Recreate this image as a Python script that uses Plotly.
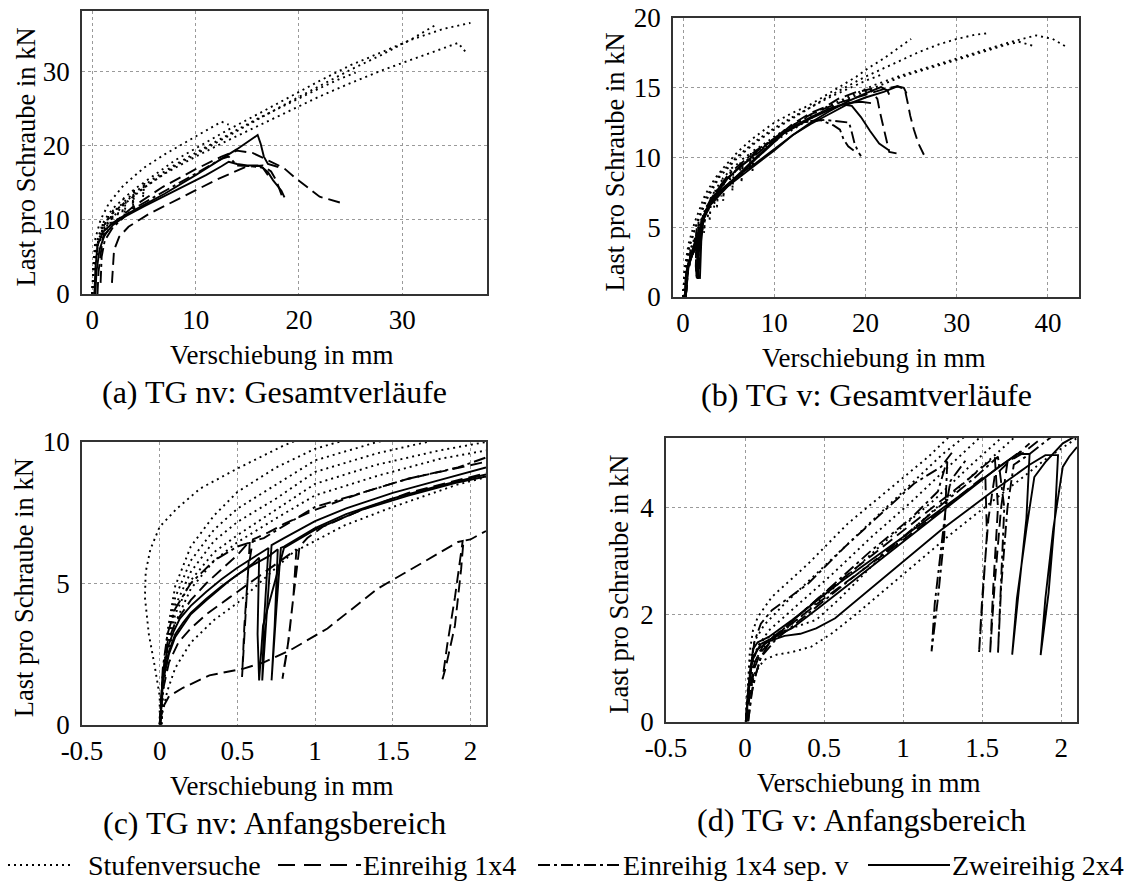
import plotly.graph_objects as go
from plotly.subplots import make_subplots

# reference canvas size; the page body adds an 8px margin before the plot div
W, H = 1132, 884
PAD = 8
FW, FH = W - PAD, H - PAD
FONT = "Liberation Serif, Times New Roman, serif"


def xp(px):
    return (px - PAD) / FW


def yp(py):
    return 1 - (py - PAD) / FH


# ---------------- (a) TG nv: Gesamtverläufe ----------------
A_STUF1_X = [0, 0.1, 0.3, 0.8, 1.6, 3, 5, 7, 9, 11, 12.5, 13.2]
A_STUF1_Y = [0, 4, 7.5, 10, 12.2, 14.6, 17, 18.8, 20.4, 22, 23.2, 22.8]
A_STUF2_X = [0, 0.1, 0.4, 0.35, 0.45, 1, 0.9, 1.05, 1.5, 1.4, 1.55, 2, 1.9, 2.05, 3, 2.9, 3.05,
             4, 3.9, 4.05, 5, 4.9, 5.05, 6, 8, 10, 13, 16, 19, 22, 25, 28, 31, 34, 36.6]
A_STUF2_Y = [0, 3.5, 7, 5, 7.1, 9.5, 7.5, 9.6, 10.6, 8.6, 10.7, 11.5, 9.5, 11.6, 12.8, 10.8, 12.9,
             14, 12, 14.1, 15, 13, 15.1, 16, 18, 19.6, 22, 24.2, 26.5, 28.7, 30.8, 32.6, 34.3, 35.7, 36.5]
A_STUF3_X = [0, 0.1, 0.5, 0.45, 0.55, 1.2, 1.1, 1.25, 1.8, 1.7, 1.85, 2.5, 2.4, 2.55, 3.2, 3.1, 3.25,
             4, 3.9, 4.05, 6, 8, 10, 13, 16, 19, 22, 25, 28, 31, 33.2]
A_STUF3_Y = [0, 3, 7, 5.2, 7.1, 9.5, 7.6, 9.6, 10.6, 8.7, 10.7, 11.5, 9.6, 11.6, 12.4, 10.5, 12.5,
             13.3, 11.4, 13.4, 15.3, 17.2, 18.8, 21.2, 23.5, 25.8, 28, 30.2, 32.2, 34.4, 36.2]
A_STUF4_X = [0, 0.1, 0.5, 1.5, 3, 5, 7, 10, 13, 16, 19, 22, 25, 28, 31, 33, 35.4, 36.3]
A_STUF4_Y = [0, 3, 6.5, 9.5, 12, 14.3, 16.2, 18.5, 20.6, 22.6, 24.6, 26.6, 28.4, 30.1, 31.6, 32.6, 33.8, 32.3]
A_STUF5_X = [0, 0.1, 0.4, 1, 2, 4, 6, 8, 10, 12, 14, 16, 18, 20, 22, 24, 25.5]
A_STUF5_Y = [0, 3, 6.5, 9, 11, 13.6, 15.6, 17.4, 19, 20.6, 22.1, 23.6, 25, 26.4, 27.7, 29, 29.8]

A_EIN1_X = [1.9, 2.0, 2.1, 2.6, 3.5, 5.5, 8.7, 11.9, 14.8, 16.5, 17.3, 17.8, 18.4]
A_EIN1_Y = [1.5, 4, 5.9, 7.7, 9.05, 10.8, 13.1, 15.3, 17.1, 17.3, 16.5, 15.3, 13.0]
A_EIN2_X = [0.5, 0.6, 1, 2, 4, 6.8, 10, 12.5, 14, 15.5, 17, 18.5, 19.5, 21, 22, 24]
A_EIN2_Y = [0, 3, 7.5, 9.5, 11.8, 14.4, 16.8, 18.5, 19.3, 19.0, 18.0, 17.0, 15.8, 14.2, 13.1, 12.3]

A_SEP1_X = [0.8, 0.9, 1.2, 2, 4, 7, 10, 12.5, 13.2, 14, 15.5, 16.5, 17]
A_SEP1_Y = [1.5, 5, 7.2, 9, 11.5, 13.8, 16.2, 18.2, 18.5, 17.3, 17.2, 17.0, 16.0]

A_ZWEI1_X = [0.2, 0.3, 0.5, 1, 2, 3, 5, 7, 10, 12, 14, 16.0, 16.3, 16.6, 17.0, 18.0]
A_ZWEI1_Y = [0, 3.5, 6.5, 8.3, 9.6, 10.5, 12, 13.5, 16, 17.7, 19.5, 21.4, 20.2, 18.5, 17.5, 17.1]
A_ZWEI2_X = [0.3, 0.4, 0.7, 1.2, 2, 3, 5, 7, 9, 11, 12.5, 13.2, 14, 15, 16, 16.5, 17, 17.5, 18.3, 18.6]
A_ZWEI2_Y = [0, 3, 6, 8, 9.3, 10.3, 11.8, 13.2, 14.6, 16, 17.2, 17.8, 17.5, 17.3, 17.3, 17.0, 16.4, 15.3, 13.9, 13.0]

# ---------------- (b) TG v: Gesamtverläufe ----------------
B_STUF1_X = [0, 0.2, 0.6, 1.3, 2.4, 3.5, 4.6, 6, 7.5, 10, 12, 13.7, 15.5, 17.3, 19, 20.3, 22, 23.5, 25.0]
B_STUF1_Y = [0, 2.1, 3.8, 5.4, 7.3, 8.5, 9.4, 10.4, 11.3, 12.5, 13.2, 13.7, 14.4, 15.1, 15.8, 16.4, 17.1, 17.8, 18.5]
B_STUF2_X = [0, 0.2, 0.7, 1.5, 2.6, 4, 6, 8, 10, 12, 14, 16, 18, 20, 22, 24, 26, 28, 30, 32, 33.3]
B_STUF2_Y = [0, 1.9, 3.6, 5.2, 7.0, 8.6, 10.0, 11.1, 12.0, 12.8, 13.6, 14.4, 15.1, 15.8, 16.4, 17.0, 17.6, 18.1, 18.5, 18.8, 18.9]
B_STUF3_X = [0, 0.2, 0.8, 0.7, 0.85, 1.3, 1.2, 1.35, 1.7, 1.6, 1.75, 2.2, 2.1, 2.25, 2.8, 2.7, 2.85,
             3.5, 3.4, 3.55, 4.3, 4.2, 4.35, 5.2, 5.1, 5.25, 6.3, 6.2, 6.35, 7.4, 7.3, 7.45, 8.5,
             10, 12, 15, 18, 21, 24, 27, 30, 33, 36, 38.7, 40.5, 42.1]
B_STUF3_Y = [0, 1.8, 3.4, 2.2, 3.5, 4.3, 3.1, 4.4, 5.0, 3.8, 5.1, 5.9, 4.7, 6.0, 6.8, 5.6, 6.9,
             7.6, 6.4, 7.7, 8.4, 7.2, 8.5, 9.1, 7.9, 9.2, 9.7, 8.5, 9.8, 10.3, 9.1, 10.4, 10.8,
             11.5, 12.3, 13.4, 14.3, 15.2, 15.9, 16.5, 17.1, 17.7, 18.3, 18.75, 18.5, 17.9]
B_STUF4_X = [0, 0.2, 0.8, 0.7, 0.85, 1.8, 1.7, 1.85, 2.4, 2.3, 2.45, 3, 2.9, 3.05, 3.8, 3.7, 3.85,
             4.5, 4.4, 4.55, 5.5, 5.4, 5.55, 6.5, 6.4, 6.55, 7.7, 7.6, 7.75, 9, 12, 15, 18, 21, 24,
             27, 30, 33, 35, 36.8, 38.4]
B_STUF4_Y = [0, 1.7, 3.3, 2.1, 3.4, 4.9, 3.7, 5.0, 5.8, 4.6, 5.9, 6.6, 5.4, 6.7, 7.5, 6.3, 7.6,
             8.1, 6.9, 8.2, 8.8, 7.6, 8.9, 9.4, 8.2, 9.5, 10.1, 8.9, 10.2, 10.7, 12.0, 13.2, 14.2, 15.0, 15.8,
             16.4, 17.0, 17.6, 18.0, 18.3, 18.0]
B_STUF5_X = [0, 0.2, 0.7, 1.5, 2.5, 4, 6, 8, 10, 12, 14, 16, 18, 20, 22]
B_STUF5_Y = [0, 2, 3.7, 5.3, 7.1, 8.8, 10.1, 11.2, 12.1, 12.9, 13.6, 14.3, 14.9, 15.5, 16.0]

B_EIN1_X = [0.3, 0.5, 1, 1.4, 1.5, 1.4, 1.5, 1.8, 2.5, 4, 6, 8, 10, 12, 14, 15.5, 17, 18.8, 20.5, 21.3, 21.6, 22.0, 22.6, 23.4]
B_EIN1_Y = [0, 2, 3.2, 4, 5, 2.5, 1.2, 4.5, 6.3, 7.9, 9.2, 10.2, 11.3, 12.4, 13.2, 13.6, 14.2, 14.65, 14.9, 14.2, 13.2, 12.0, 10.4, 10.3]
B_EIN2_X = [0.3, 0.5, 1, 1.6, 1.7, 1.6, 1.7, 2, 3, 5, 8, 11, 14, 17, 20, 22, 23.5, 24.3, 24.6, 24.9, 25.3, 25.8, 26.4]
B_EIN2_Y = [0, 2.2, 3.3, 4.2, 5.4, 2.8, 1.3, 5.2, 6.9, 8.6, 10.3, 11.9, 13.1, 13.9, 14.5, 14.9, 15.1, 14.9, 14.0, 13.0, 12.0, 11.0, 10.2]

B_SEP1_X = [0.3, 0.6, 1.2, 1.5, 1.4, 1.5, 2, 3, 5, 8, 11, 13, 15.5, 17, 18.2, 18.5, 18.8, 19.2, 19.5]
B_SEP1_Y = [0, 2.5, 3.7, 4.6, 2.2, 1.4, 5.5, 7, 8.8, 10.5, 11.8, 12.5, 12.7, 12.6, 12.5, 11.8, 11.0, 10.4, 10.1]
B_SEP2_X = [0.3, 0.6, 1.2, 1.8, 3, 5, 8, 11, 13, 15, 16.5, 17.2, 17.6, 18.1, 18.7]
B_SEP2_Y = [0, 2.4, 3.6, 4.8, 6.8, 8.6, 10.4, 11.8, 12.5, 12.7, 12.3, 12.0, 11.3, 10.8, 10.5]

B_ZWEI1_X = [0.2, 0.3, 0.6, 1.0, 1.5, 1.9, 2.0, 1.9, 1.85, 2.0, 2.3, 3, 4, 6, 8, 10, 12, 14, 16, 18, 20, 21.7, 22.4, 22.6]
B_ZWEI1_Y = [0, 1.5, 2.4, 3.0, 3.6, 4.5, 5.2, 3, 1.3, 4, 5.9, 6.9, 7.6, 8.7, 9.6, 10.6, 11.6, 12.5, 13.3, 14.0, 14.6, 15.05, 14.8, 14.5]
B_ZWEI2_X = [0.2, 0.35, 0.7, 1.2, 1.6, 1.7, 1.55, 1.6, 1.8, 2.2, 3, 4, 6, 8, 10, 12, 14, 16, 18, 20, 22, 23.5, 24.2, 24.5]
B_ZWEI2_Y = [0, 1.8, 2.6, 3.3, 4.0, 5, 2.5, 1.3, 4, 5.6, 6.7, 7.5, 8.5, 9.5, 10.5, 11.6, 12.4, 13.1, 13.8, 14.3, 14.7, 15.1, 15.0, 14.6]
B_ZWEI3_X = [0.3, 0.5, 1, 1.5, 2.2, 3, 5, 8, 11, 14, 16, 17.5, 18.5, 19.5, 20.5, 21.5, 22.6]
B_ZWEI3_Y = [0, 2, 3, 3.8, 5.5, 6.6, 8, 9.9, 11.7, 12.8, 13.4, 13.8, 13.7, 12.9, 11.9, 11.0, 10.5]
B_ZWEI4_X = [0.3, 0.6, 1.2, 2.2, 3, 5, 8, 11, 14, 16, 18, 19.5, 20.6]
B_ZWEI4_Y = [0, 2.2, 3.4, 5.6, 6.6, 8.1, 10.0, 11.8, 12.9, 13.5, 13.9, 14.0, 13.9]

# ---------------- (c) TG nv: Anfangsbereich ----------------
C_STUF1_X = [0.0, 0.0, -0.03, -0.07, -0.095, -0.09, -0.06, 0.0, 0.11, 0.26, 0.5, 0.8, 0.9]
C_STUF1_Y = [0, 1.0, 2.0, 3.2, 4.5, 5.4, 6.2, 7.0, 7.64, 8.35, 9.06, 9.88, 10.1]
C_STUF2_X = [0.01, 0.02, 0.05, 0.1, 0.2, 0.35, 0.5, 0.75, 1.0, 1.4]
C_STUF2_Y = [0, 1.5, 3.3, 4.9, 6.3, 7.4, 8.23, 9.1, 9.76, 10.4]
C_STUF3_X = [0.01, 0.02, 0.05, 0.1, 0.2, 0.35, 0.5, 0.75, 1.0, 1.4, 1.8]
C_STUF3_Y = [0, 1.4, 3.0, 4.5, 5.8, 6.9, 7.64, 8.5, 9.35, 10.0, 10.5]
C_STUF4_X = [0.01, 0.02, 0.05, 0.1, 0.2, 0.35, 0.5, 0.75, 1.0, 1.4, 1.8]
C_STUF4_Y = [0, 1.3, 2.8, 4.2, 5.4, 6.5, 7.17, 8.0, 8.94, 9.6, 10.1]
C_STUF5_X = [0.01, 0.02, 0.05, 0.1, 0.2, 0.35, 0.5, 0.75, 1.0, 1.4, 1.8, 2.1]
C_STUF5_Y = [0, 1.2, 2.6, 3.9, 5.1, 6.1, 6.7, 7.6, 8.52, 9.2, 9.7, 10.0]
C_STUF6_X = [0.01, 0.02, 0.05, 0.1, 0.2, 0.35, 0.5, 0.75, 1.0, 1.4, 1.8, 2.1]
C_STUF6_Y = [0, 1.1, 2.4, 3.6, 4.8, 5.8, 6.45, 7.3, 8.11, 8.8, 9.4, 9.7]
C_STUF7_X = [0.01, 0.02, 0.05, 0.1, 0.2, 0.35, 0.5, 0.7, 0.86, 1.0, 1.19, 1.5, 1.92, 2.1]
C_STUF7_Y = [0, 0.5, 1.2, 2.0, 2.9, 3.7, 4.3, 5.3, 6.1, 6.5, 7.05, 7.7, 8.5, 8.75]

C_EIN1_X = [0.0, 0.01, 0.03, 0.06, 0.15, 0.32, 0.54, 0.67, 0.84, 1.08, 1.4, 1.62, 1.92, 1.95, 1.9, 1.85, 1.82, 1.84, 1.9, 1.94, 1.955, 2.0, 2.1]
C_EIN1_Y = [0, 0.3, 0.7, 1.0, 1.3, 1.74, 1.98, 2.2, 2.63, 3.4, 4.8, 5.5, 6.46, 6.5, 4.5, 2.8, 1.6, 2.0, 3.5, 5.5, 6.5, 6.55, 6.85]
C_EIN2_X = [0.0, 0.02, 0.05, 0.1, 0.2, 0.3, 0.4, 0.5, 0.58, 0.555, 0.53, 0.545, 0.57, 0.6, 0.7, 0.8, 1.0, 1.3, 1.6, 2.1]
C_EIN2_Y = [0, 1.8, 2.9, 3.6, 4.4, 5.0, 5.5, 6.0, 6.5, 4.0, 1.68, 3.5, 5.5, 6.55, 6.8, 7.1, 7.6, 8.2, 8.7, 9.3]
C_EIN3_X = [0.0, 0.02, 0.06, 0.12, 0.2, 0.3, 0.45, 0.6, 0.75, 0.88, 0.86, 0.83, 0.80, 0.79, 0.82, 0.86, 0.9, 0.95, 1.05, 1.3, 1.6, 2.1]
C_EIN3_Y = [0, 1.2, 2.2, 2.9, 3.4, 3.9, 4.5, 5.1, 5.7, 6.2, 4.5, 3.0, 2.0, 1.62, 2.6, 4.5, 6.3, 6.6, 7.0, 7.6, 8.2, 8.9]

C_SEP1_X = [0.0, 0.02, 0.05, 0.1, 0.2, 0.35, 0.5, 0.67, 0.85, 1.0, 1.3, 1.6, 1.92, 2.1]
C_SEP1_Y = [0, 2.0, 3.2, 4.1, 5.0, 5.8, 6.3, 6.6, 7.2, 7.7, 8.2, 8.7, 9.1, 9.45]

C_ZWEI1_X = [0.004, 0.02, 0.05, 0.09, 0.13, 0.2, 0.3, 0.4, 0.5, 0.6, 0.7, 0.67, 0.66, 0.69, 0.72, 0.8, 1.0, 1.2, 1.5, 1.8, 2.1]
C_ZWEI1_Y = [0, 1.7, 2.7, 3.3, 3.75, 4.2, 4.7, 5.15, 5.55, 5.9, 6.25, 3.5, 1.56, 4.0, 6.35, 6.6, 7.2, 7.65, 8.2, 8.65, 9.1]
C_ZWEI2_X = [0.004, 0.02, 0.06, 0.1, 0.15, 0.2, 0.3, 0.4, 0.5, 0.6, 0.7, 0.76, 0.74, 0.72, 0.75, 0.78, 0.8, 1.0, 1.2, 1.5, 1.8, 2.1]
C_ZWEI2_Y = [0, 1.6, 2.6, 3.2, 3.6, 3.95, 4.45, 4.9, 5.3, 5.65, 5.95, 6.2, 3.5, 1.56, 4.0, 6.25, 6.3, 6.95, 7.45, 8.0, 8.45, 8.85]
C_ZWEI3_X = [0.004, 0.02, 0.06, 0.1, 0.2, 0.3, 0.45, 0.6, 0.64, 0.63, 0.64, 0.665, 0.8, 1.0, 1.3, 1.6, 1.9, 2.1]
C_ZWEI3_Y = [0, 1.5, 2.5, 3.1, 3.9, 4.4, 5.1, 5.7, 5.9, 3.2, 1.56, 3.5, 6.25, 6.9, 7.6, 8.1, 8.55, 8.78]

# ---------------- (d) TG v: Anfangsbereich ----------------
D_STUF1_X = [0.005, 0.015, 0.03, 0.05, 0.08, 0.17, 0.4, 0.65, 0.9, 1.16, 1.3]
D_STUF1_Y = [0, 0.6, 1.3, 1.7, 1.95, 2.33, 2.95, 3.7, 4.32, 4.95, 5.35]
D_STUF2_X = [0.005, 0.015, 0.03, 0.06, 0.12, 0.25, 0.5, 0.75, 1.0, 1.25, 1.4]
D_STUF2_Y = [0, 0.5, 1.1, 1.5, 1.8, 2.2, 2.9, 3.6, 4.3, 5.0, 5.35]
D_STUF3_X = [0.005, 0.02, 0.04, 0.08, 0.15, 0.3, 0.55, 0.8, 1.05, 1.3, 1.5]
D_STUF3_Y = [0, 0.5, 1.0, 1.4, 1.7, 2.1, 2.75, 3.45, 4.1, 4.8, 5.35]
D_STUF4_X = [0.005, 0.02, 0.05, 0.1, 0.2, 0.35, 0.6, 0.9, 1.2, 1.45, 1.62]
D_STUF4_Y = [0, 0.5, 1.0, 1.35, 1.6, 1.95, 2.6, 3.4, 4.15, 4.85, 5.3]
D_STUF5_X = [0.005, 0.02, 0.06, 0.12, 0.2, 0.3, 0.42, 0.55, 0.7, 1.0, 1.3, 1.6, 1.9, 2.1]
D_STUF5_Y = [0, 0.4, 0.9, 1.15, 1.25, 1.3, 1.4, 1.65, 2.0, 2.75, 3.5, 4.2, 4.9, 5.3]
D_STUF6_X = [0.005, 0.02, 0.05, 0.1, 0.2, 0.3, 0.45, 0.6, 0.8, 1.1, 1.4, 1.7]
D_STUF6_Y = [0, 0.6, 1.2, 1.5, 1.65, 1.75, 1.9, 2.3, 2.9, 3.7, 4.5, 5.3]

D_EIN1_X = [0.01, 0.03, 0.06, 0.1, 0.2, 0.27, 0.5, 0.94, 1.2, 1.45, 1.52, 1.53, 1.5, 1.48, 1.5, 1.54, 1.58, 1.65, 1.8]
D_EIN1_Y = [0, 0.5, 1.0, 1.3, 1.6, 1.77, 2.3, 3.26, 3.85, 4.45, 4.6, 3.5, 2.2, 1.27, 2.3, 3.8, 4.6, 4.8, 5.2]
D_EIN2_X = [0.01, 0.03, 0.06, 0.12, 0.25, 0.5, 0.8, 1.1, 1.4, 1.58, 1.6, 1.57, 1.55, 1.58, 1.62, 1.66, 1.75, 1.9]
D_EIN2_Y = [0, 0.6, 1.1, 1.45, 1.75, 2.4, 3.1, 3.8, 4.5, 4.95, 4.0, 2.5, 1.27, 2.6, 4.0, 4.85, 5.0, 5.35]

D_SEP1_X = [0.02, 0.04, 0.07, 0.1, 0.15, 0.25, 0.5, 0.8, 1.05, 1.22, 1.28, 1.26, 1.22, 1.18, 1.2, 1.24, 1.27, 1.3, 1.4]
D_SEP1_Y = [0, 0.5, 0.9, 1.2, 1.45, 1.75, 2.4, 3.2, 3.8, 4.3, 4.9, 3.45, 2.3, 1.31, 2.2, 3.2, 4.0, 4.5, 4.9]
D_SEP2_X = [0.01, 0.03, 0.06, 0.1, 0.17, 0.4, 0.63, 0.84, 1.07, 1.24, 1.32]
D_SEP2_Y = [0, 0.9, 1.5, 1.83, 2.08, 2.58, 3.26, 3.82, 4.45, 4.76, 5.07]
D_SEP3_X = [0.02, 0.05, 0.1, 0.2, 0.35, 0.6, 0.9, 1.2, 1.45, 1.6, 1.64, 1.62, 1.6, 1.62, 1.66, 1.7, 1.8, 1.95]
D_SEP3_Y = [0, 0.7, 1.2, 1.55, 1.9, 2.5, 3.2, 3.95, 4.55, 4.95, 4.0, 2.5, 1.27, 2.5, 4.0, 4.8, 5.0, 5.35]

D_ZWEI1_X = [0.005, 0.02, 0.035, 0.05, 0.08, 0.15, 0.3, 0.6, 1.0, 1.3, 1.6, 1.72, 1.8, 1.78, 1.73, 1.69, 1.72, 1.78, 1.83, 1.9, 2.01, 2.1]
D_ZWEI1_Y = [0, 0.5, 1.0, 1.35, 1.48, 1.58, 1.9, 2.6, 3.45, 4.1, 4.75, 5.0, 5.0, 3.8, 2.4, 1.25, 2.3, 3.6, 4.57, 4.85, 5.2, 5.35]
D_ZWEI2_X = [0.005, 0.02, 0.04, 0.08, 0.15, 0.25, 0.35, 0.45, 0.57, 0.9, 1.24, 1.56, 1.8, 1.9, 1.98, 1.96, 1.92, 1.87, 1.9, 1.95, 2.01, 2.05, 2.1]
D_ZWEI2_Y = [0, 0.6, 1.1, 1.35, 1.5, 1.6, 1.64, 1.74, 1.93, 2.75, 3.58, 4.29, 4.8, 4.98, 4.98, 3.8, 2.4, 1.24, 2.3, 3.6, 4.76, 4.95, 5.13]
D_ZWEI3_X = [0.005, 0.02, 0.05, 0.1, 0.2, 0.3, 0.5, 0.8, 1.1, 1.4, 1.6, 1.75]
D_ZWEI3_Y = [0, 0.6, 1.2, 1.45, 1.6, 1.75, 2.2, 2.9, 3.6, 4.3, 4.75, 5.05]

# tick labels
A_XTICKS = [0, 10, 20, 30]
A_YTICKS = [0, 10, 20, 30]
B_XTICKS = [0, 10, 20, 30, 40]
B_YTICKS = [0, 5, 10, 15, 20]
CD_XTICKS = [-0.5, 0, 0.5, 1, 1.5, 2]
CD_XLABELS = ["-0.5", "0", "0.5", "1", "1.5", "2"]
C_YTICKS = [0, 5, 10]
D_YTICKS = [0, 2, 4]

SUBTITLES = ["(a) TG nv: Gesamtverläufe", "(b) TG v: Gesamtverläufe",
             "(c) TG nv: Anfangsbereich", "(d) TG v: Anfangsbereich"]
LEGEND_NAMES = ["Stufenversuche", "Einreihig 1x4", "Einreihig 1x4 sep. v", "Zweireihig 2x4"]

STYLES = {
    "stuf": dict(color="black", width=1.9, dash="2px,4px"),
    "ein": dict(color="black", width=1.9, dash="12px,6px"),
    "sep": dict(color="black", width=1.9, dash="12px,4px,3px,4px"),
    "zwei": dict(color="black", width=1.9, dash="solid"),
}

PANELS = {
    (1, 1): [("stuf", A_STUF1_X, A_STUF1_Y), ("stuf", A_STUF2_X, A_STUF2_Y), ("stuf", A_STUF3_X, A_STUF3_Y),
             ("stuf", A_STUF4_X, A_STUF4_Y), ("stuf", A_STUF5_X, A_STUF5_Y),
             ("ein", A_EIN1_X, A_EIN1_Y), ("ein", A_EIN2_X, A_EIN2_Y),
             ("sep", A_SEP1_X, A_SEP1_Y),
             ("zwei", A_ZWEI1_X, A_ZWEI1_Y), ("zwei", A_ZWEI2_X, A_ZWEI2_Y)],
    (1, 2): [("stuf", B_STUF1_X, B_STUF1_Y), ("stuf", B_STUF2_X, B_STUF2_Y), ("stuf", B_STUF3_X, B_STUF3_Y),
             ("stuf", B_STUF4_X, B_STUF4_Y), ("stuf", B_STUF5_X, B_STUF5_Y),
             ("ein", B_EIN1_X, B_EIN1_Y), ("ein", B_EIN2_X, B_EIN2_Y),
             ("sep", B_SEP1_X, B_SEP1_Y), ("sep", B_SEP2_X, B_SEP2_Y),
             ("zwei", B_ZWEI1_X, B_ZWEI1_Y), ("zwei", B_ZWEI2_X, B_ZWEI2_Y),
             ("zwei", B_ZWEI3_X, B_ZWEI3_Y), ("zwei", B_ZWEI4_X, B_ZWEI4_Y)],
    (2, 1): [("stuf", C_STUF1_X, C_STUF1_Y), ("stuf", C_STUF2_X, C_STUF2_Y), ("stuf", C_STUF3_X, C_STUF3_Y),
             ("stuf", C_STUF4_X, C_STUF4_Y), ("stuf", C_STUF5_X, C_STUF5_Y), ("stuf", C_STUF6_X, C_STUF6_Y),
             ("stuf", C_STUF7_X, C_STUF7_Y),
             ("ein", C_EIN1_X, C_EIN1_Y), ("ein", C_EIN2_X, C_EIN2_Y), ("ein", C_EIN3_X, C_EIN3_Y),
             ("sep", C_SEP1_X, C_SEP1_Y),
             ("zwei", C_ZWEI1_X, C_ZWEI1_Y), ("zwei", C_ZWEI2_X, C_ZWEI2_Y), ("zwei", C_ZWEI3_X, C_ZWEI3_Y)],
    (2, 2): [("stuf", D_STUF1_X, D_STUF1_Y), ("stuf", D_STUF2_X, D_STUF2_Y), ("stuf", D_STUF3_X, D_STUF3_Y),
             ("stuf", D_STUF4_X, D_STUF4_Y), ("stuf", D_STUF5_X, D_STUF5_Y), ("stuf", D_STUF6_X, D_STUF6_Y),
             ("ein", D_EIN1_X, D_EIN1_Y), ("ein", D_EIN2_X, D_EIN2_Y),
             ("sep", D_SEP1_X, D_SEP1_Y), ("sep", D_SEP2_X, D_SEP2_Y), ("sep", D_SEP3_X, D_SEP3_Y),
             ("zwei", D_ZWEI1_X, D_ZWEI1_Y), ("zwei", D_ZWEI2_X, D_ZWEI2_Y), ("zwei", D_ZWEI3_X, D_ZWEI3_Y)],
}

fig = make_subplots(rows=2, cols=2)

for (r, c), curves in PANELS.items():
    for style, xs, ys in curves:
        fig.add_trace(go.Scatter(x=xs, y=ys, mode="lines", line=STYLES[style],
                                 showlegend=False, hoverinfo="skip"), row=r, col=c)

# frame positions in reference pixels: left, right, top, bottom, y-title offset
FRAMES = {
    (1, 1): (82, 487, 11, 294, 57),
    (1, 2): (673, 1079, 18, 297, 58),
    (2, 1): (82, 486, 442, 724.5, 58),
    (2, 2): (666, 1077, 438, 721.5, 47),
}
RANGES = {
    (1, 1): ([-1, 38.2], [0, 38.1], A_XTICKS, [str(v) for v in A_XTICKS], A_YTICKS),
    (1, 2): ([-1.1, 43.4], [0, 20], B_XTICKS, [str(v) for v in B_XTICKS], B_YTICKS),
    (2, 1): ([-0.5, 2.1], [0, 10], CD_XTICKS, CD_XLABELS, C_YTICKS),
    (2, 2): ([-0.5, 2.1], [0, 5.3], CD_XTICKS, CD_XLABELS, D_YTICKS),
}

axis_common = dict(showline=True, linecolor="#333", linewidth=1.6, mirror=True, automargin=False,
                   showgrid=True, gridcolor="#9a9a9a", griddash="dot", gridwidth=1,
                   zeroline=False, tickcolor="rgba(0,0,0,0)", ticklabeloverflow="allow",
                   tickfont=dict(family=FONT, size=27, color="black"))

for (r, c), (left, right, top, bottom, _) in FRAMES.items():
    xr, yr, xt, xl, yt = RANGES[(r, c)]
    fig.update_xaxes(domain=[xp(left), xp(right)], range=xr, tickvals=xt, ticktext=xl,
                     ticks="outside", ticklen=1, row=r, col=c, **axis_common)
    fig.update_yaxes(domain=[yp(bottom), yp(top)], range=yr, tickvals=yt, ticks="outside", ticklen=5,
                     ticktext=[str(v) for v in yt], row=r, col=c, **axis_common)

annotations = []
xtitle_font = dict(family=FONT, size=27, color="black")
ytitle_font = dict(family=FONT, size=26.5, color="black")
sub_font = dict(family=FONT, size=32, color="black")
leg_font = dict(family=FONT, size=28, color="black")
for (r, c), (left, right, top, bottom, yoff) in FRAMES.items():
    cx = (left + right) / 2
    annotations.append(dict(text="Verschiebung in mm", x=xp(cx - 3), y=yp(bottom + 61),
                            xref="paper", yref="paper", showarrow=False, font=xtitle_font,
                            xanchor="center", yanchor="middle"))
    annotations.append(dict(text=SUBTITLES[(r - 1) * 2 + (c - 1)], x=xp(cx - 10), y=yp(bottom + 98),
                            xref="paper", yref="paper", showarrow=False, font=sub_font,
                            xanchor="center", yanchor="middle"))
    annotations.append(dict(text="Last pro Schraube in kN", x=xp(left - yoff), y=yp((top + bottom) / 2 + 5),
                            xref="paper", yref="paper", showarrow=False, font=ytitle_font, textangle=-90,
                            xanchor="center", yanchor="middle"))

# manual legend row at the bottom: sample line start/end, text start
LEG_Y = yp(865)
LEG_ITEMS = [(8, 72, 86), (278, 361, 361), (538, 621, 621), (868, 950, 950)]
LEG_KEYS = ["stuf", "ein", "sep", "zwei"]
shapes = []
for (x0, x1, tx), key, name in zip(LEG_ITEMS, LEG_KEYS, LEGEND_NAMES):
    st = dict(STYLES[key])
    if key == "ein":
        st["dash"] = "17px,9px"
    shapes.append(dict(type="line", xref="paper", yref="paper", x0=xp(x0), x1=xp(x1),
                       y0=LEG_Y, y1=LEG_Y, line=st))
    annotations.append(dict(text=name, x=xp(tx), y=LEG_Y, xref="paper", yref="paper",
                            showarrow=False, font=leg_font, xanchor="left", yanchor="middle"))

fig.update_layout(width=FW, height=FH, autosize=False, margin=dict(l=0, r=0, t=0, b=0),
                  paper_bgcolor="white", plot_bgcolor="white", showlegend=False,
                  annotations=annotations, shapes=shapes, font=dict(family=FONT))

fig.write_html("out.html")
